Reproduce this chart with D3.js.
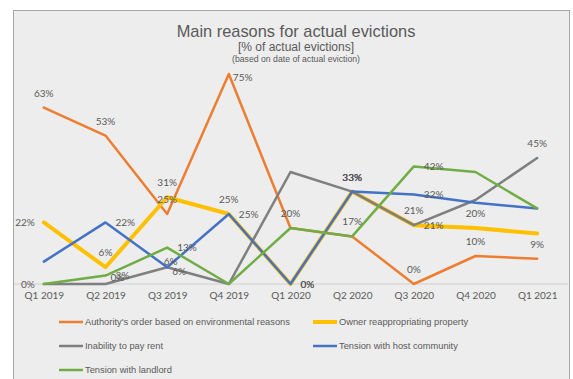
<!DOCTYPE html>
<html>
<head>
<meta charset="utf-8">
<script src="https://cdn.jsdelivr.net/npm/d3@7"></script>
<style>
  html, body { margin: 0; padding: 0; background: #ffffff; }
  svg { display: block; }
</style>
</head>
<body>
<svg id="chart" width="573" height="379"></svg>
<script>
// Quarters on the x axis
const quarters = ["Q1 2019", "Q2 2019", "Q3 2019", "Q4 2019", "Q1 2020",
                  "Q2 2020", "Q3 2020", "Q4 2020", "Q1 2021"];

// Share of actual evictions by main reason (%)
const authorityOrder   = [63, 53, 25, 75, 20, 17, 0, 10, 9];
const ownerReapprop    = [22, 6, 31, 25, 0, 33, 21, 20, 18];
const inabilityToPay   = [0, 0, 6, 0, 40, 33, 21, 30, 45];
const tensionHost      = [8, 22, 6, 25, 0, 33, 32, 29, 27];
const tensionLandlord  = [0, 3, 13, 0, 20, 17, 42, 40, 27];

const seriesNames = [
  "Authority's order based on environmental reasons",
  "Owner reappropriating property",
  "Inability to pay rent",
  "Tension with host community",
  "Tension with landlord"
];
const seriesValues = [authorityOrder, ownerReapprop, inabilityToPay, tensionHost, tensionLandlord];

// Presentation
const colors = ["#ED7D31", "#FFC000", "#7F7F7F", "#4472C4", "#70AD47"];
const widths = [2.5, 4, 2.5, 2.5, 2.5];

// Which points carry a value label and where it sits relative to the point
// t = above, r = right, l = left, plus a few hand-placed spots in crowded areas
const labelSpots = [
  ["t", "t", "t", "rn", "t", null, "t", "t", "t"],
  ["l", "t", "t", "t", "r", "t", "r", "t", null],
  ["l", "ru", "rd", null, null, "t", "t", null, "t"],
  [null, "r", "tn", "r", "r", "t", "r", null, null],
  [null, "r", "r", null, null, "t", "r", null, null]
];

const svg = d3.select("#chart");

// Chart frame
svg.append("rect")
  .attr("x", 13.5).attr("y", 10.5)
  .attr("width", 556).attr("height", 380)
  .attr("fill", "#EDEDED")
  .attr("stroke", "#A6A6A6")
  .attr("stroke-width", 1);

// Titles
const titleColor = "#595959";
svg.append("text")
  .attr("x", 296).attr("y", 36.5)
  .attr("text-anchor", "middle")
  .attr("font-family", "Liberation Sans, Arial, sans-serif")
  .attr("font-size", 16.4)
  .attr("fill", titleColor)
  .text("Main reasons for actual evictions");
svg.append("text")
  .attr("x", 296).attr("y", 51)
  .attr("text-anchor", "middle")
  .attr("font-family", "Liberation Sans, Arial, sans-serif")
  .attr("font-size", 12)
  .attr("fill", titleColor)
  .text("[% of actual evictions]");
svg.append("text")
  .attr("x", 296).attr("y", 61.5)
  .attr("text-anchor", "middle")
  .attr("font-family", "Liberation Sans, Arial, sans-serif")
  .attr("font-size", 8.7)
  .attr("fill", titleColor)
  .text("(based on date of actual eviction)");

// Scales
const x = d3.scalePoint().domain(quarters).range([13, 568]).padding(0.5);
const y = d3.scaleLinear().domain([0, 80]).range([284, 60]);

// Zero line
svg.append("line")
  .attr("x1", 14).attr("x2", 568)
  .attr("y1", y(0)).attr("y2", y(0))
  .attr("stroke", "#D9D9D9").attr("stroke-width", 1.5);

// X axis labels
const xAxis = d3.axisBottom(x).tickSize(0).tickPadding(8);
const gx = svg.append("g").attr("transform", `translate(0,${y(0)})`).call(xAxis);
gx.select(".domain").remove();
gx.selectAll("text")
  .attr("font-family", "Lato, Carlito, Calibri, sans-serif")
  .attr("font-size", 10)
  .attr("fill", "#595959");

// Lines
const line = d3.line()
  .x((d, i) => x(quarters[i]))
  .y(d => y(d));

seriesValues.forEach((vals, s) => {
  svg.append("path")
    .datum(vals)
    .attr("d", line)
    .attr("fill", "none")
    .attr("stroke", colors[s])
    .attr("stroke-width", widths[s])
    .attr("stroke-linejoin", "round")
    .attr("stroke-linecap", "round");
});

// Value labels
const spotStyle = {
  t:  { dx: 0,  dy: -14.5, anchor: "middle" },
  r:  { dx: 10, dy: 0,     anchor: "start" },
  l:  { dx: -9, dy: 0,     anchor: "end" },
  rn: { dx: 4,  dy: 3,     anchor: "start" },
  ru: { dx: 5,  dy: -7,    anchor: "start" },
  rd: { dx: 5,  dy: 4,     anchor: "start" },
  tn: { dx: 3.5, dy: -5.5, anchor: "middle" }
};
seriesValues.forEach((vals, s) => {
  vals.forEach((v, i) => {
    const spot = labelSpots[s][i];
    if (!spot) return;
    const st = spotStyle[spot];
    svg.append("text")
      .attr("x", x(quarters[i]) + st.dx)
      .attr("y", y(v) + st.dy)
      .attr("dy", "0.35em")
      .attr("text-anchor", st.anchor)
      .attr("font-family", "Lato, Carlito, Calibri, sans-serif")
      .attr("font-size", 10)
      .attr("fill", "#595959")
      .text(v + "%");
  });
});

// Legend
const legendX = [59, 313];
const legendY = [322, 346, 370];
seriesNames.forEach((name, s) => {
  const col = s % 2, row = Math.floor(s / 2);
  const g = svg.append("g")
    .attr("transform", `translate(${legendX[col]},${legendY[row]})`);
  g.append("line")
    .attr("x1", 0).attr("x2", 24)
    .attr("y1", 0).attr("y2", 0)
    .attr("stroke", colors[s])
    .attr("stroke-width", widths[s]);
  g.append("text")
    .attr("x", 26).attr("y", 0)
    .attr("dy", "0.35em")
    .attr("font-family", "Liberation Sans, Arial, sans-serif")
    .attr("font-size", 9.3)
    .attr("fill", "#595959")
    .text(name);
});
</script>
</body>
</html>
